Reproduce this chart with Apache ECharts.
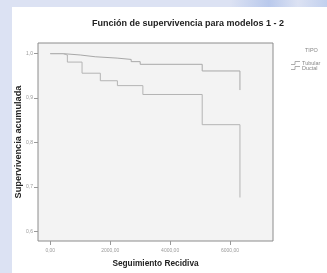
<!DOCTYPE html>
<html><head><meta charset="utf-8">
<script src="https://cdn.jsdelivr.net/npm/echarts@6/dist/echarts.min.js"></script>
<style>
html,body{margin:0;padding:0;width:327px;height:273px;overflow:hidden;background:#dce2f3;}
#top{position:absolute;left:230px;top:0;width:97px;height:7px;background:linear-gradient(90deg,#dce2f3,#b9c9ec 40%,#dce2f3 70%,#c2d0ee);}
#panel{position:absolute;left:12px;top:7px;width:315px;height:266px;background:#ffffff;}
#c{position:absolute;left:0;top:0;width:327px;height:273px;}
</style></head>
<body><div id="top"></div><div id="panel"></div><div id="c"></div>
<script>
const title = 'Función de supervivencia para modelos 1 - 2';
const xTitle = 'Seguimiento Recidiva';
const yTitle = 'Supervivencia acumulada';
const legendTitle = 'TIPO';
const seriesNames = ['Tubular', 'Ductal'];
const xTicks = [0, 2000, 4000, 6000];
const yTicks = [0.6, 0.7, 0.8, 0.9, 1.0];
const timesA = [0, 430, 1000, 1500, 2230, 2700, 3000, 5070, 6330];
const survA  = [1.0, 0.997, 0.993, 0.990, 0.987, 0.982, 0.976, 0.961, 0.918];
const timesB = [0, 430, 570, 1060, 1670, 2240, 3090, 5070, 6330];
const survB  = [1.0, 0.997, 0.981, 0.956, 0.939, 0.928, 0.908, 0.840, 0.676];

const chart = echarts.init(document.getElementById('c'), null, {renderer:'canvas'});
const toPairs = (t, s) => t.map((v, i) => [v, s[i]]);
const lblColor = '#9a9a9a';
const legendY = [63, 68];
const graphics = [
  {type:'text', left:305, top:47, style:{text:legendTitle, fontSize:5.5, fill:'#888', fontFamily:'Liberation Sans'}}
];
seriesNames.forEach((n, i) => {
  const y = legendY[i];
  graphics.push({type:'polyline', shape:{points:[[291,y+1.5],[295,y+1.5],[295,y-1.5],[300,y-1.5]]}, style:{stroke:'#999', lineWidth:0.8, fill:null}});
  graphics.push({type:'text', left:302, top:y-3, style:{text:n, fontSize:5.5, fill:'#888', fontFamily:'Liberation Sans'}});
});
chart.setOption({
  animation:false,
  backgroundColor:'transparent',
  title:{text:title, left:87, top:14, textStyle:{fontSize:9, fontWeight:'bold', color:'#222', fontFamily:'Liberation Sans'}},
  grid:{left:38, top:43, width:235, height:204, show:true, backgroundColor:'#f3f3f3', borderColor:'#8c8c8c', borderWidth:1},
  xAxis:{type:'value', min:-410, max:7433,
    name:xTitle, nameLocation:'middle', nameGap:19, nameMoveOverlap:false,
    nameTextStyle:{fontSize:8.3, fontWeight:'bold', color:'#222', fontFamily:'Liberation Sans'},
    axisLine:{show:false, onZero:false}, splitLine:{show:false},
    axisTick:{show:true, customValues:xTicks, length:4, lineStyle:{color:'#999'}},
    axisLabel:{customValues:xTicks, fontSize:5, color:lblColor, margin:7, fontFamily:'Liberation Sans',
      formatter:v => v.toFixed(2).replace('.', ',')}},
  yAxis:{type:'value', min:0.578, max:1.024,
    name:yTitle, nameLocation:'middle', nameGap:15, nameMoveOverlap:false,
    nameTextStyle:{fontSize:9.2, fontWeight:'bold', color:'#222', fontFamily:'Liberation Sans'},
    axisLine:{show:false, onZero:false}, splitLine:{show:false},
    axisTick:{show:true, customValues:yTicks, length:4, lineStyle:{color:'#999'}},
    axisLabel:{customValues:yTicks, fontSize:5, color:lblColor, margin:5, fontFamily:'Liberation Sans',
      formatter:v => v.toFixed(1).replace('.', ',')}},
  series:[
    {name:seriesNames[0], type:'line', step:'end', data:toPairs(timesA, survA), showSymbol:false, symbol:'none',
      lineStyle:{color:'#a8a8a8', width:1}},
    {name:seriesNames[1], type:'line', step:'end', data:toPairs(timesB, survB), showSymbol:false, symbol:'none',
      lineStyle:{color:'#b4b4b4', width:1}}
  ],
  graphic:graphics
});
</script></body></html>
